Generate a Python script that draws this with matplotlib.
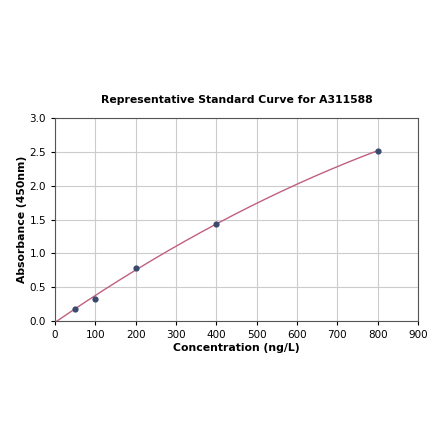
import numpy as np
import matplotlib
matplotlib.use("Agg")
import matplotlib.pyplot as plt

# standards
conc = [50, 100, 200, 400, 800]
absorb = [0.18, 0.33, 0.79, 1.43, 2.52]

# quadratic fit through the standards (forced via origin point)
fit_x = [0] + conc
fit_y = [0] + absorb
coef = np.polyfit(fit_x, fit_y, 2)
xs = np.linspace(0, 800, 200)
ys = np.polyval(coef, xs)

fig = plt.figure(figsize=(4.4, 4.41), dpi=100)
ax = fig.add_axes([0.125, 0.272, 0.825, 0.46])

ax.plot(xs, ys, color="#c0607f", lw=1.0, zorder=2)
ax.scatter(conc, absorb, s=12, color="#3a4a6e", zorder=3)

ax.set_xlim(0, 900)
ax.set_ylim(0, 3.0)
ax.set_xticks(np.arange(0, 901, 100))
ax.set_yticks(np.arange(0, 3.01, 0.5))
ax.grid(True, color="#cccccc", lw=0.8)
ax.set_axisbelow(True)
ax.tick_params(labelsize=7.5, length=3)
for s in ax.spines.values():
    s.set_color("#555555")

ax.set_xlabel("Concentration (ng/L)", fontsize=7.8, fontweight="bold", labelpad=2)
ax.set_ylabel("Absorbance (450nm)", fontsize=7.8, fontweight="bold", labelpad=2)
ax.set_title("Representative Standard Curve for A311588", fontsize=7.8,
             fontweight="bold", pad=11)

plt.savefig("out.png", dpi=100)
